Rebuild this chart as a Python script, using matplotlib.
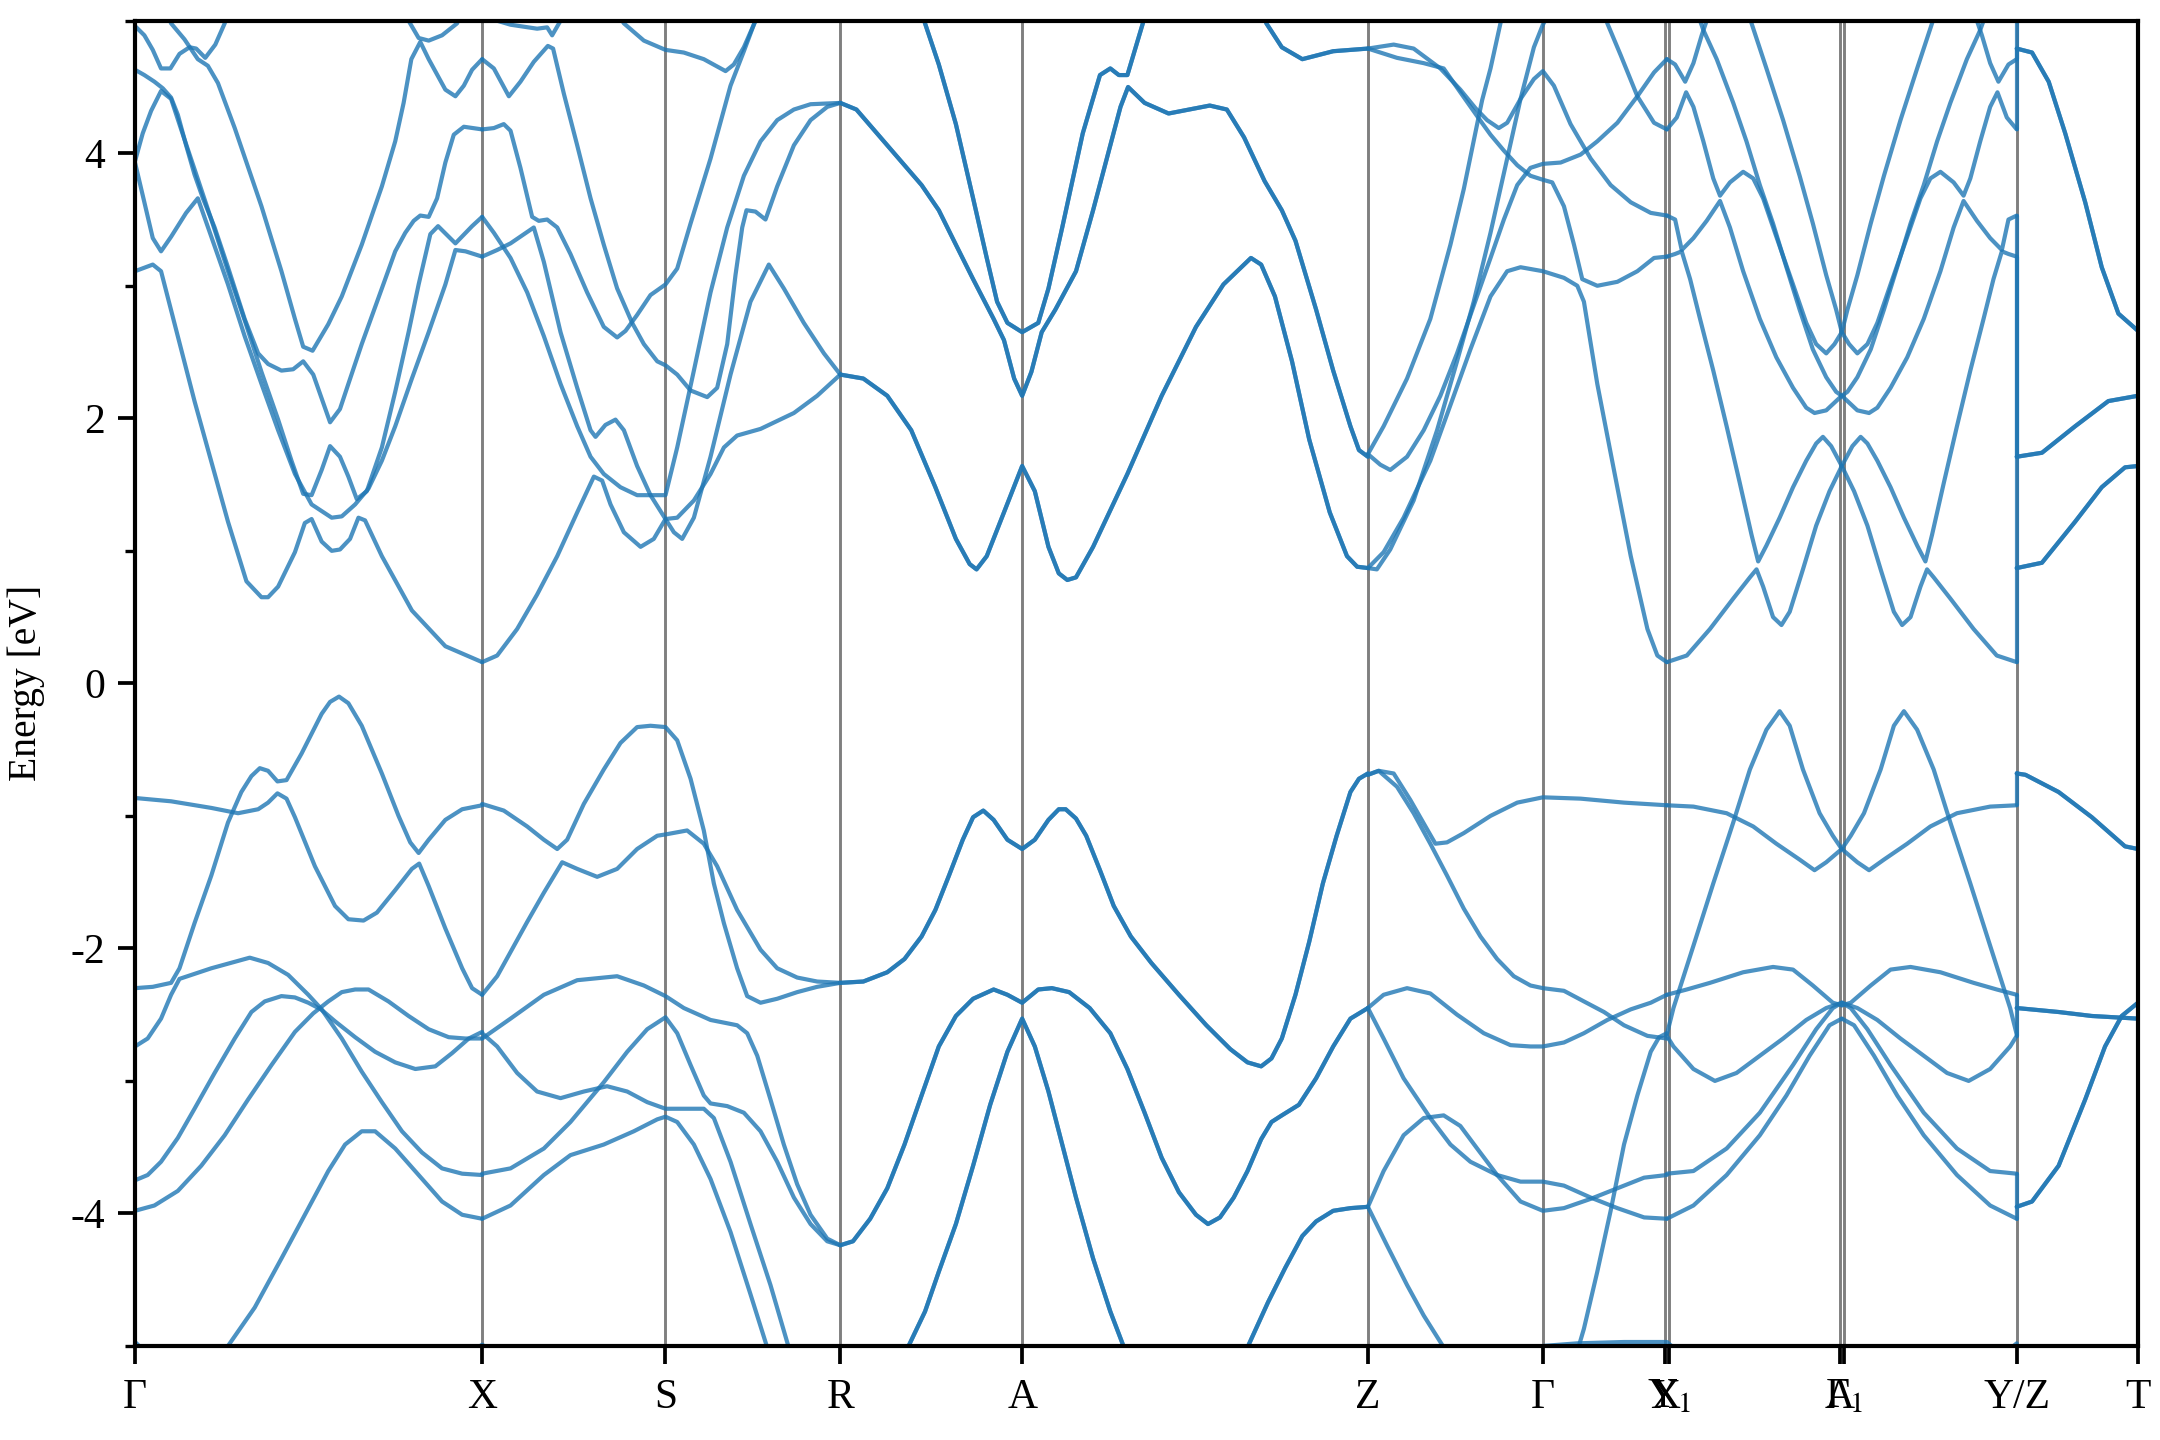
import matplotlib
matplotlib.use("Agg")
import matplotlib.pyplot as plt
from matplotlib.ticker import MultipleLocator

plt.rcParams['font.family'] = ['Liberation Serif', 'DejaVu Serif']
plt.rcParams['mathtext.fontset'] = 'stix'
plt.rcParams['axes.unicode_minus'] = False

# ---------------- high-symmetry path ----------------
kpt_labels = ["Γ", "X", "S", "R", "A", "Z", "Γ", "X", "Y$_1$", "A", "Γ$_1$", "Y/Z", "T"]
kpt_pos = [0.0, 2.52, 3.85, 5.12, 6.44, 8.95, 10.22, 11.105, 11.135, 12.375, 12.405, 13.66, 14.54]
k_max = 14.54
e_min, e_max = -5.0, 5.0

# ---------------- bands: (k, E [eV]) ----------------
# Gamma - X, conduction
gx_c1 = [(0,3.11),(0.129,3.16),(0.189,3.11),(0.432,2.13),(0.675,1.22),(0.809,0.77),(0.918,0.65),(0.966,0.65),(1.039,0.73),(1.161,0.99),(1.233,1.21),(1.282,1.24),(1.355,1.07),(1.428,1.00),(1.488,1.01),(1.561,1.09),(1.622,1.25),(1.670,1.23),(1.792,0.96),(2.010,0.55),(2.253,0.28),(2.52,0.16)]
gx_c2 = [(0,4.96),(0.068,4.89),(0.129,4.78),(0.189,4.64),(0.257,4.64),(0.323,4.75),(0.396,4.80),(0.444,4.79),(0.510,4.72),(0.583,4.82),(0.651,4.98),(0.68,5.08)]
gx_c3 = [(0.22,5.08),(0.262,4.98),(0.359,4.86),(0.456,4.71),(0.529,4.66),(0.602,4.53),(0.724,4.19),(0.918,3.60),(1.063,3.11),(1.161,2.75),(1.221,2.54),(1.289,2.51),(1.403,2.71),(1.501,2.92),(1.646,3.31),(1.792,3.75),(1.889,4.09),(1.950,4.38),(2.006,4.71),(2.071,4.84),(2.132,4.71),(2.253,4.48),(2.326,4.43),(2.387,4.51),(2.447,4.63),(2.52,4.71)]
gx_c4 = [(1.96,5.08),(1.986,5.0),(2.059,4.87),(2.132,4.85),(2.229,4.89),(2.338,4.98),(2.37,5.08)]
gx_c5 = [(0,4.63),(0.068,4.59),(0.141,4.54),(0.202,4.49),(0.262,4.42),(0.311,4.29),(0.371,4.06),(0.432,3.84),(0.493,3.66),(0.578,3.44),(0.675,3.14),(0.796,2.75),(0.894,2.49),(0.966,2.41),(1.063,2.36),(1.148,2.37),(1.221,2.43),(1.294,2.33),(1.355,2.15),(1.416,1.97),(1.488,2.07),(1.549,2.26),(1.646,2.56),(1.792,2.98),(1.889,3.26),(1.962,3.40),(2.023,3.49),(2.071,3.53),(2.132,3.52),(2.193,3.66),(2.253,3.93),(2.314,4.14),(2.387,4.20),(2.52,4.18)]
gx_c6 = [(0,3.94),(0.056,4.15),(0.117,4.32),(0.189,4.47),(0.262,4.41),(0.335,4.18),(0.432,3.88),(0.554,3.50),(0.675,3.11),(0.796,2.74),(0.918,2.35),(1.039,1.99),(1.136,1.68),(1.221,1.43),(1.282,1.42),(1.355,1.61),(1.416,1.79),(1.488,1.71),(1.549,1.56),(1.610,1.39),(1.683,1.45),(1.792,1.78),(1.889,2.20),(1.986,2.65),(2.059,3.01),(2.144,3.39),(2.200,3.45),(2.326,3.32),(2.447,3.45),(2.52,3.52)]
gx_c7 = [(0,3.93),(0.068,3.63),(0.129,3.36),(0.189,3.26),(0.262,3.37),(0.371,3.55),(0.456,3.66),(0.554,3.37),(0.675,3.01),(0.796,2.62),(0.918,2.26),(1.039,1.91),(1.161,1.58),(1.282,1.35),(1.428,1.25),(1.501,1.26),(1.598,1.35),(1.695,1.47),(1.792,1.68),(1.889,1.94),(2.010,2.30),(2.132,2.65),(2.253,3.01),(2.326,3.27),(2.399,3.26),(2.52,3.22)]
# Gamma - X, valence
gx_v1 = [(0,-0.865),(0.262,-0.89),(0.554,-0.94),(0.748,-0.98),(0.894,-0.95),(0.966,-0.90),(1.034,-0.83),(1.100,-0.87),(1.161,-1.01),(1.306,-1.38),(1.452,-1.68),(1.549,-1.78),(1.659,-1.79),(1.756,-1.73),(1.889,-1.56),(2.010,-1.40),(2.063,-1.36),(2.132,-1.53),(2.253,-1.85),(2.375,-2.15),(2.447,-2.30),(2.52,-2.35)]
gx_v2 = [(0,-2.30),(0.129,-2.29),(0.262,-2.26),(0.323,-2.15),(0.432,-1.81),(0.554,-1.45),(0.675,-1.05),(0.772,-0.82),(0.845,-0.70),(0.906,-0.64),(0.966,-0.66),(1.034,-0.74),(1.100,-0.73),(1.209,-0.53),(1.355,-0.23),(1.416,-0.14),(1.481,-0.10),(1.549,-0.15),(1.646,-0.32),(1.792,-0.68),(1.913,-1.00),(1.998,-1.20),(2.059,-1.28),(2.132,-1.18),(2.253,-1.03),(2.375,-0.95),(2.52,-0.92)]
gx_v3 = [(0,-2.74),(0.092,-2.68),(0.189,-2.53),(0.262,-2.35),(0.323,-2.23),(0.554,-2.15),(0.833,-2.07),(0.966,-2.11),(1.112,-2.20),(1.258,-2.35),(1.355,-2.46),(1.501,-2.68),(1.646,-2.93),(1.792,-3.16),(1.938,-3.38),(2.083,-3.54),(2.229,-3.66),(2.375,-3.70),(2.52,-3.71)]
gx_v4 = [(0,-3.75),(0.092,-3.71),(0.189,-3.61),(0.311,-3.43),(0.432,-3.21),(0.578,-2.94),(0.724,-2.68),(0.845,-2.48),(0.942,-2.40),(1.063,-2.36),(1.161,-2.37),(1.258,-2.41),(1.350,-2.46),(1.452,-2.55),(1.598,-2.67),(1.743,-2.78),(1.889,-2.86),(2.035,-2.91),(2.180,-2.89),(2.302,-2.79),(2.423,-2.68),(2.52,-2.63)]
gx_v5 = [(0,-3.98),(0.141,-3.94),(0.311,-3.83),(0.481,-3.64),(0.651,-3.41),(0.821,-3.14),(0.991,-2.88),(1.161,-2.63),(1.294,-2.49),(1.403,-2.40),(1.501,-2.33),(1.598,-2.31),(1.695,-2.31),(1.840,-2.40),(1.986,-2.51),(2.132,-2.61),(2.277,-2.67),(2.399,-2.68),(2.52,-2.68)]
gx_v6 = [(0.60,-5.3),(0.675,-5.0),(0.869,-4.71),(1.063,-4.34),(1.233,-4.01),(1.403,-3.68),(1.525,-3.48),(1.646,-3.38),(1.743,-3.38),(1.889,-3.51),(2.059,-3.71),(2.229,-3.91),(2.375,-4.01),(2.52,-4.04)]
gx_v7 = [(0,-4.97),(0.08,-5.05)]
gx_v8 = [(2.44,-5.05),(2.52,-4.99),(2.60,-5.05)]

# X - S - R, conduction
xs_a = [(2.520,4.71),(2.605,4.64),(2.714,4.43),(2.798,4.54),(2.895,4.69),(2.997,4.81),(3.035,4.79),(3.113,4.45),(3.210,4.06),(3.307,3.66),(3.403,3.31),(3.500,2.98),(3.609,2.72),(3.694,2.56),(3.791,2.43),(3.851,2.40),(3.936,2.33),(4.033,2.21),(4.154,2.16),(4.226,2.23),(4.299,2.56),(4.359,3.08),(4.408,3.44),(4.439,3.57),(4.504,3.56),(4.577,3.50),(4.662,3.75),(4.783,4.06),(4.904,4.25),(5.025,4.35),(5.12,4.38)]
xs_b = [(2.520,4.18),(2.605,4.19),(2.677,4.22),(2.726,4.17),(2.798,3.89),(2.883,3.52),(2.931,3.49),(2.992,3.50),(3.065,3.44),(3.161,3.24),(3.282,2.95),(3.403,2.69),(3.500,2.61),(3.561,2.66),(3.645,2.78),(3.742,2.93),(3.851,3.01),(3.936,3.13),(4.033,3.47),(4.178,3.96),(4.323,4.51),(4.420,4.77),(4.492,4.97),(4.528,5.06)]
xs_c = [(2.520,3.52),(2.605,3.40),(2.726,3.21),(2.847,2.95),(2.968,2.62),(3.089,2.26),(3.210,1.94),(3.307,1.71),(3.403,1.58),(3.524,1.48),(3.645,1.42),(3.766,1.42),(3.851,1.42),(3.936,1.78),(4.057,2.36),(4.178,2.95),(4.299,3.44),(4.420,3.83),(4.541,4.09),(4.662,4.25),(4.783,4.33),(4.904,4.37),(5.12,4.38)]
xs_d = [(2.520,3.22),(2.629,3.27),(2.726,3.32),(2.895,3.44),(2.968,3.18),(3.089,2.65),(3.210,2.23),(3.307,1.91),(3.343,1.86),(3.415,1.95),(3.488,1.99),(3.549,1.91),(3.645,1.64),(3.742,1.42),(3.851,1.24),(3.912,1.14),(3.972,1.09),(4.057,1.25),(4.178,1.71),(4.323,2.33),(4.468,2.88),(4.601,3.16),(4.710,2.98),(4.855,2.72),(5.001,2.49),(5.12,2.33)]
xs_e = [(2.520,0.16),(2.629,0.21),(2.774,0.41),(2.919,0.67),(3.065,0.96),(3.210,1.29),(3.331,1.56),(3.391,1.53),(3.452,1.35),(3.549,1.14),(3.670,1.03),(3.766,1.09),(3.851,1.24),(3.936,1.25),(4.057,1.38),(4.178,1.58),(4.275,1.78),(4.371,1.87),(4.541,1.92),(4.783,2.04),(4.952,2.17),(5.12,2.33)]
xs_f = [(3.50,5.06),(3.549,4.98),(3.694,4.85),(3.851,4.78),(3.984,4.76),(4.129,4.71),(4.287,4.62),(4.347,4.67),(4.420,4.80),(4.492,4.97),(4.528,5.06)]
xs_g = [(2.60,5.06),(2.629,5.0),(2.726,4.97),(2.919,4.94),(2.992,4.95),(3.028,4.89),(3.089,5.0),(3.11,5.06)]
# X - S - R, valence
xs_v1 = [(2.520,-0.91),(2.677,-0.96),(2.847,-1.08),(2.968,-1.18),(3.065,-1.25),(3.137,-1.18),(3.258,-0.91),(3.403,-0.65),(3.524,-0.45),(3.645,-0.33),(3.742,-0.32),(3.851,-0.33),(3.936,-0.43),(4.033,-0.72),(4.129,-1.11),(4.202,-1.51),(4.275,-1.81),(4.371,-2.15),(4.444,-2.36),(4.541,-2.41),(4.662,-2.38),(4.807,-2.33),(4.952,-2.29),(5.12,-2.26)]
xs_v2 = [(2.520,-2.35),(2.629,-2.21),(2.847,-1.80),(2.968,-1.58),(3.101,-1.35),(3.210,-1.40),(3.355,-1.46),(3.500,-1.40),(3.645,-1.25),(3.791,-1.15),(3.851,-1.14),(4.008,-1.11),(4.129,-1.21),(4.226,-1.38),(4.371,-1.71),(4.541,-2.01),(4.662,-2.15),(4.807,-2.22),(4.952,-2.25),(5.12,-2.26)]
xs_v3 = [(2.520,-2.68),(2.726,-2.53),(2.968,-2.35),(3.210,-2.24),(3.500,-2.21),(3.694,-2.28),(3.851,-2.36),(3.984,-2.45),(4.178,-2.54),(4.371,-2.58),(4.444,-2.64),(4.517,-2.81),(4.613,-3.14),(4.710,-3.48),(4.807,-3.78),(4.904,-4.01),(5.025,-4.19),(5.12,-4.24)]
xs_v4 = [(2.520,-3.70),(2.726,-3.66),(2.968,-3.51),(3.161,-3.31),(3.403,-3.01),(3.573,-2.78),(3.718,-2.61),(3.851,-2.52),(3.936,-2.64),(4.033,-2.88),(4.129,-3.11),(4.178,-3.17),(4.299,-3.19),(4.420,-3.24),(4.541,-3.38),(4.662,-3.61),(4.783,-3.88),(4.904,-4.08),(5.025,-4.21),(5.12,-4.24)]
xs_v5 = [(2.520,-2.64),(2.629,-2.74),(2.774,-2.94),(2.919,-3.08),(3.089,-3.13),(3.258,-3.08),(3.427,-3.04),(3.573,-3.08),(3.718,-3.16),(3.851,-3.21),(3.984,-3.21),(4.129,-3.21),(4.202,-3.28),(4.323,-3.61),(4.468,-4.08),(4.613,-4.54),(4.734,-4.97),(4.783,-5.14)]
xs_v6 = [(2.520,-4.04),(2.726,-3.94),(2.968,-3.71),(3.161,-3.56),(3.403,-3.48),(3.621,-3.38),(3.791,-3.29),(3.851,-3.27),(3.936,-3.31),(4.057,-3.48),(4.178,-3.74),(4.323,-4.14),(4.468,-4.61),(4.589,-5.01),(4.613,-5.14)]

# R - A - Z (doubly degenerate)
rz_c1 = [(5.12,4.38),(5.237,4.33),(5.461,4.06),(5.710,3.76),(5.835,3.57),(5.959,3.31),(6.084,3.05),(6.233,2.75),(6.308,2.59),(6.382,2.30),(6.44,2.17),(6.507,2.35),(6.582,2.65),(6.681,2.82),(6.831,3.11),(6.955,3.57),(7.080,4.06),(7.154,4.35),(7.209,4.50),(7.329,4.38),(7.503,4.30),(7.652,4.33),(7.802,4.36),(7.926,4.33),(8.051,4.12),(8.200,3.79),(8.325,3.57),(8.424,3.34),(8.574,2.82),(8.698,2.36),(8.823,1.94),(8.885,1.76),(8.95,1.71)]
rz_c2 = [(5.71,5.06),(5.735,4.98),(5.835,4.67),(5.959,4.22),(6.084,3.66),(6.183,3.21),(6.258,2.88),(6.333,2.72),(6.44,2.65),(6.557,2.72),(6.631,2.98),(6.731,3.44),(6.880,4.15),(7.005,4.59),(7.080,4.64),(7.142,4.59),(7.204,4.59),(7.316,4.98),(7.34,5.08)]
rz_c3 = [(5.12,2.33),(5.287,2.30),(5.461,2.17),(5.635,1.91),(5.810,1.48),(5.959,1.09),(6.059,0.90),(6.109,0.86),(6.183,0.96),(6.308,1.29),(6.44,1.64),(6.532,1.45),(6.631,1.03),(6.706,0.83),(6.768,0.78),(6.831,0.80),(6.955,1.03),(7.204,1.58),(7.453,2.17),(7.702,2.69),(7.901,3.01),(8.101,3.21),(8.175,3.16),(8.275,2.92),(8.399,2.43),(8.524,1.84),(8.673,1.29),(8.798,0.96),(8.872,0.88),(8.95,0.87)]
rz_c4 = [(8.19,5.06),(8.213,4.98),(8.325,4.80),(8.474,4.71),(8.698,4.77),(8.95,4.79)]
rz_v1 = [(5.12,-2.26),(5.287,-2.25),(5.461,-2.18),(5.586,-2.08),(5.710,-1.91),(5.810,-1.71),(5.909,-1.45),(6.009,-1.18),(6.084,-1.01),(6.158,-0.96),(6.233,-1.03),(6.333,-1.18),(6.44,-1.25),(6.532,-1.18),(6.631,-1.03),(6.706,-0.95),(6.756,-0.95),(6.831,-1.02),(6.905,-1.15),(7.005,-1.41),(7.105,-1.68),(7.229,-1.91),(7.378,-2.11),(7.578,-2.35),(7.777,-2.58),(7.951,-2.76),(8.076,-2.86),(8.175,-2.89),(8.250,-2.83),(8.325,-2.68),(8.424,-2.35),(8.524,-1.95),(8.623,-1.51),(8.723,-1.15),(8.823,-0.82),(8.885,-0.72),(8.95,-0.68)]
rz_v2 = [(5.12,-4.24),(5.212,-4.21),(5.337,-4.04),(5.461,-3.81),(5.586,-3.48),(5.710,-3.11),(5.835,-2.74),(5.959,-2.51),(6.084,-2.38),(6.233,-2.31),(6.333,-2.35),(6.44,-2.41),(6.557,-2.31),(6.656,-2.30),(6.781,-2.33),(6.930,-2.45),(7.080,-2.64),(7.204,-2.91),(7.329,-3.24),(7.453,-3.58),(7.578,-3.84),(7.702,-4.01),(7.789,-4.08),(7.876,-4.03),(7.976,-3.88),(8.076,-3.68),(8.175,-3.44),(8.250,-3.31),(8.325,-3.26),(8.449,-3.18),(8.574,-2.98),(8.698,-2.74),(8.823,-2.53),(8.95,-2.45)]
rz_v3 = [(5.57,-5.12),(5.611,-5.01),(5.735,-4.74),(5.835,-4.44),(5.959,-4.08),(6.084,-3.64),(6.208,-3.18),(6.333,-2.78),(6.44,-2.53),(6.532,-2.74),(6.631,-3.08),(6.731,-3.48),(6.831,-3.88),(6.955,-4.34),(7.080,-4.74),(7.179,-5.01),(7.22,-5.12)]
rz_v4 = [(8.04,-5.12),(8.076,-5.01),(8.225,-4.67),(8.350,-4.41),(8.474,-4.17),(8.574,-4.06),(8.698,-3.98),(8.823,-3.96),(8.95,-3.95)]

# Z - Gamma - X, conduction
zg_c1 = [(8.95,1.73),(9.040,1.65),(9.112,1.61),(9.234,1.71),(9.355,1.91),(9.476,2.17),(9.597,2.49),(9.718,2.85),(9.840,3.21),(9.937,3.50),(10.034,3.76),(10.130,3.89),(10.22,3.92),(10.349,3.93),(10.494,3.99),(10.615,4.09),(10.761,4.23),(10.906,4.43),(11.027,4.61),(11.12,4.71)]
zg_c2 = [(8.95,1.73),(9.064,1.94),(9.234,2.30),(9.403,2.75),(9.549,3.31),(9.646,3.73),(9.743,4.22),(9.779,4.40),(9.840,4.64),(9.912,4.98),(9.93,5.06)]
zg_c3 = [(8.95,0.87),(9.015,0.86),(9.112,1.01),(9.282,1.38),(9.452,1.91),(9.597,2.43),(9.718,2.88),(9.840,3.40),(9.961,3.96),(10.058,4.41),(10.155,4.80),(10.22,4.97),(10.252,5.03)]
zg_c4 = [(8.95,0.87),(9.064,0.99),(9.209,1.25),(9.403,1.68),(9.549,2.10),(9.694,2.52),(9.840,2.92),(9.961,3.11),(10.058,3.14),(10.22,3.11),(10.373,3.06),(10.470,3.00),(10.518,2.88),(10.615,2.26),(10.736,1.61),(10.858,0.96),(10.979,0.41),(11.051,0.21),(11.12,0.16)]
zg_c5 = [(8.95,4.79),(9.137,4.82),(9.282,4.79),(9.476,4.64),(9.621,4.48),(9.731,4.34),(9.815,4.25),(9.900,4.19),(9.961,4.23),(10.058,4.41),(10.155,4.56),(10.22,4.62),(10.300,4.51),(10.421,4.22),(10.567,3.96),(10.712,3.76),(10.858,3.63),(11.003,3.55),(11.12,3.53)]
zg_c6 = [(8.95,4.79),(9.161,4.72),(9.355,4.68),(9.500,4.64),(9.621,4.46),(9.743,4.28),(9.840,4.14),(9.937,4.02),(10.034,3.91),(10.130,3.83),(10.22,3.80),(10.288,3.78),(10.373,3.60),(10.446,3.31),(10.506,3.05),(10.615,3.00),(10.761,3.03),(10.906,3.11),(11.027,3.21),(11.12,3.22)]
zg_c7 = [(10.664,5.06),(10.688,4.98),(10.785,4.74),(10.906,4.43),(11.027,4.23),(11.12,4.18)]
# Z - Gamma - X, valence
zg_v1 = [(8.95,-0.69),(9.028,-0.66),(9.137,-0.68),(9.258,-0.88),(9.379,-1.10),(9.440,-1.21),(9.524,-1.20),(9.646,-1.13),(9.840,-1.00),(10.034,-0.90),(10.22,-0.86),(10.494,-0.87),(10.809,-0.90),(11.12,-0.92)]
zg_v2 = [(8.95,-0.69),(9.028,-0.66),(9.161,-0.78),(9.282,-0.98),(9.403,-1.21),(9.524,-1.45),(9.646,-1.70),(9.767,-1.91),(9.888,-2.08),(10.009,-2.21),(10.130,-2.28),(10.22,-2.30),(10.373,-2.32),(10.518,-2.40),(10.664,-2.48),(10.809,-2.58),(10.979,-2.66),(11.12,-2.68)]
zg_v3 = [(8.95,-2.45),(9.064,-2.35),(9.234,-2.30),(9.403,-2.34),(9.597,-2.50),(9.791,-2.64),(9.985,-2.73),(10.130,-2.74),(10.22,-2.74),(10.373,-2.71),(10.518,-2.64),(10.688,-2.54),(10.858,-2.46),(11.003,-2.41),(11.12,-2.35)]
zg_v4 = [(8.95,-2.45),(9.064,-2.68),(9.209,-2.98),(9.403,-3.28),(9.549,-3.48),(9.694,-3.61),(9.888,-3.71),(10.058,-3.76),(10.22,-3.76),(10.373,-3.79),(10.567,-3.88),(10.761,-3.96),(10.955,-4.03),(11.12,-4.04)]
zg_v5 = [(8.95,-3.95),(9.064,-3.68),(9.209,-3.41),(9.355,-3.28),(9.500,-3.26),(9.621,-3.34),(9.743,-3.51),(9.888,-3.71),(10.058,-3.91),(10.22,-3.98),(10.373,-3.96),(10.567,-3.89),(10.761,-3.81),(10.955,-3.73),(11.12,-3.71)]
zg_v6 = [(8.95,-3.95),(9.088,-4.24),(9.234,-4.54),(9.355,-4.77),(9.500,-5.01),(9.52,-5.1)]
zg_v7 = [(10.08,-5.06),(10.22,-5.0),(10.47,-4.98),(10.81,-4.97),(11.12,-4.97),(11.20,-5.04)]
zg_v8 = [(10.47,-5.04),(10.518,-4.87),(10.615,-4.44),(10.712,-3.98),(10.809,-3.48),(10.906,-3.11),(11.003,-2.78),(11.064,-2.67),(11.12,-2.64)]

# Y1 - A|Gamma1 - Y, conduction
ya_c1 = [(11.12,4.71),(11.180,4.67),(11.253,4.54),(11.313,4.68),(11.373,4.89),(11.409,5.0),(11.42,5.07)]
ya_c2 = [(11.337,5.07),(11.385,4.93),(11.482,4.71),(11.602,4.38),(11.698,4.09),(11.795,3.76),(11.891,3.47),(11.988,3.14),(12.084,2.82),(12.180,2.52),(12.277,2.31),(12.349,2.20),(12.39,2.17)]
ya_c3 = [(11.12,4.18),(11.192,4.27),(11.260,4.46),(11.313,4.35),(11.385,4.09),(11.457,3.81),(11.506,3.68),(11.578,3.78),(11.674,3.86),(11.747,3.81),(11.819,3.66),(11.915,3.37),(12.036,3.01),(12.132,2.72),(12.204,2.56),(12.277,2.49),(12.337,2.56),(12.39,2.65)]
ya_c4 = [(11.12,3.53),(11.180,3.50),(11.228,3.27),(11.313,3.36),(11.409,3.49),(11.506,3.64),(11.578,3.44),(11.674,3.11),(11.795,2.75),(11.915,2.46),(12.036,2.23),(12.132,2.08),(12.192,2.04),(12.277,2.06),(12.39,2.17)]
ya_c5 = [(11.12,3.22),(11.180,3.24),(11.228,3.26),(11.289,3.05),(11.361,2.75),(11.457,2.36),(11.554,1.94),(11.650,1.51),(11.735,1.12),(11.783,0.92),(11.843,1.04),(11.939,1.25),(12.036,1.48),(12.132,1.68),(12.204,1.81),(12.253,1.86),(12.313,1.79),(12.39,1.64)]
ya_c6 = [(11.12,0.16),(11.265,0.21),(11.433,0.41),(11.602,0.64),(11.723,0.80),(11.771,0.86),(11.819,0.73),(11.891,0.50),(11.952,0.44),(12.012,0.54),(12.108,0.86),(12.204,1.19),(12.301,1.45),(12.39,1.64)]
ya_c7 = [(11.710,5.07),(11.735,4.98),(11.843,4.64),(11.964,4.25),(12.084,3.83),(12.180,3.47),(12.277,3.08),(12.349,2.82),(12.39,2.65)]
ay_c1 = [(13.66,4.71),(13.600,4.67),(13.527,4.54),(13.467,4.68),(13.407,4.89),(13.371,5.0),(13.36,5.07)]
ay_c2 = [(13.443,5.07),(13.395,4.93),(13.298,4.71),(13.178,4.38),(13.082,4.09),(12.985,3.76),(12.889,3.47),(12.792,3.14),(12.696,2.82),(12.600,2.52),(12.503,2.31),(12.431,2.20),(12.39,2.17)]
ay_c3 = [(13.66,4.18),(13.588,4.27),(13.520,4.46),(13.467,4.35),(13.395,4.09),(13.323,3.81),(13.274,3.68),(13.202,3.78),(13.106,3.86),(13.033,3.81),(12.961,3.66),(12.865,3.37),(12.744,3.01),(12.648,2.72),(12.576,2.56),(12.503,2.49),(12.443,2.56),(12.39,2.65)]
ay_c4 = [(13.66,3.53),(13.600,3.50),(13.552,3.27),(13.467,3.36),(13.371,3.49),(13.274,3.64),(13.202,3.44),(13.106,3.11),(12.985,2.75),(12.865,2.46),(12.744,2.23),(12.648,2.08),(12.588,2.04),(12.503,2.06),(12.39,2.17)]
ay_c5 = [(13.66,3.22),(13.600,3.24),(13.552,3.26),(13.491,3.05),(13.419,2.75),(13.323,2.36),(13.226,1.94),(13.130,1.51),(13.045,1.12),(12.997,0.92),(12.937,1.04),(12.841,1.25),(12.744,1.48),(12.648,1.68),(12.576,1.81),(12.527,1.86),(12.467,1.79),(12.39,1.64)]
ay_c6 = [(13.66,0.16),(13.515,0.21),(13.347,0.41),(13.178,0.64),(13.057,0.80),(13.009,0.86),(12.961,0.73),(12.889,0.50),(12.828,0.44),(12.768,0.54),(12.672,0.86),(12.576,1.19),(12.479,1.45),(12.39,1.64)]
ay_c7 = [(13.070,5.07),(13.045,4.98),(12.937,4.64),(12.816,4.25),(12.696,3.83),(12.600,3.47),(12.503,3.08),(12.431,2.82),(12.39,2.65)]
# Y1 - A|Gamma1 - Y, valence
ya_v1 = [(11.12,-0.92),(11.313,-0.93),(11.554,-0.98),(11.747,-1.08),(11.915,-1.21),(12.084,-1.33),(12.192,-1.41),(12.277,-1.35),(12.39,-1.25)]
ya_v2 = [(11.12,-2.65),(11.168,-2.45),(11.313,-1.98),(11.457,-1.51),(11.602,-1.05),(11.723,-0.65),(11.843,-0.35),(11.939,-0.21),(12.012,-0.32),(12.108,-0.65),(12.229,-0.98),(12.325,-1.15),(12.39,-1.25)]
ya_v3 = [(11.12,-2.35),(11.265,-2.31),(11.433,-2.26),(11.674,-2.18),(11.891,-2.14),(12.036,-2.16),(12.180,-2.28),(12.325,-2.41),(12.39,-2.43)]
ya_v4 = [(11.12,-2.66),(11.168,-2.74),(11.313,-2.91),(11.469,-3.00),(11.626,-2.94),(11.795,-2.81),(11.964,-2.68),(12.132,-2.54),(12.277,-2.45),(12.39,-2.41)]
ya_v5 = [(11.12,-3.70),(11.313,-3.68),(11.554,-3.51),(11.795,-3.24),(12.036,-2.88),(12.204,-2.61),(12.325,-2.45),(12.39,-2.41)]
ya_v6 = [(11.12,-4.04),(11.313,-3.94),(11.554,-3.71),(11.795,-3.41),(11.988,-3.11),(12.156,-2.81),(12.301,-2.58),(12.39,-2.53)]
ay_v1 = [(13.66,-0.92),(13.467,-0.93),(13.226,-0.98),(13.033,-1.08),(12.865,-1.21),(12.696,-1.33),(12.588,-1.41),(12.503,-1.35),(12.39,-1.25)]
ay_v2 = [(13.66,-2.65),(13.612,-2.45),(13.467,-1.98),(13.323,-1.51),(13.178,-1.05),(13.057,-0.65),(12.937,-0.35),(12.841,-0.21),(12.768,-0.32),(12.672,-0.65),(12.551,-0.98),(12.455,-1.15),(12.39,-1.25)]
ay_v3 = [(13.66,-2.35),(13.515,-2.31),(13.347,-2.26),(13.106,-2.18),(12.889,-2.14),(12.744,-2.16),(12.600,-2.28),(12.455,-2.41),(12.39,-2.43)]
ay_v4 = [(13.66,-2.66),(13.612,-2.74),(13.467,-2.91),(13.311,-3.00),(13.154,-2.94),(12.985,-2.81),(12.816,-2.68),(12.648,-2.54),(12.503,-2.45),(12.39,-2.41)]
ay_v5 = [(13.66,-3.70),(13.467,-3.68),(13.226,-3.51),(12.985,-3.24),(12.744,-2.88),(12.576,-2.61),(12.455,-2.45),(12.39,-2.41)]
ay_v6 = [(13.66,-4.04),(13.467,-3.94),(13.226,-3.71),(12.985,-3.41),(12.792,-3.11),(12.624,-2.81),(12.479,-2.58),(12.39,-2.53)]
ay_v7 = [(13.59,-5.04),(13.66,-4.98)]

# Z - T (doubly degenerate)
zt_c1 = [(13.66,4.79),(13.771,4.76),(13.892,4.54),(14.012,4.15),(14.157,3.63),(14.277,3.14),(14.398,2.79),(14.54,2.66)]
zt_c2 = [(13.66,1.71),(13.843,1.74),(14.084,1.94),(14.325,2.13),(14.54,2.17)]
zt_c3 = [(13.66,0.87),(13.843,0.91),(14.084,1.22),(14.277,1.48),(14.446,1.63),(14.54,1.64)]
zt_v1 = [(13.66,-0.68),(13.723,-0.69),(13.964,-0.82),(14.205,-1.01),(14.446,-1.23),(14.54,-1.25)]
zt_v2 = [(13.66,-2.45),(13.964,-2.48),(14.205,-2.51),(14.54,-2.53)]
zt_v3 = [(13.66,-3.95),(13.771,-3.91),(13.964,-3.64),(14.157,-3.14),(14.301,-2.74),(14.422,-2.51),(14.54,-2.41)]

# band jumps at the Y|Z discontinuity: (E at Y, E at Z)
yz_jumps = [(0.16,0.87),(3.22,0.87),(3.53,1.71),(4.18,4.79),(4.71,4.79),(5.1,4.79),
            (-0.92,-0.68),(-2.35,-2.45),(-2.66,-2.45),(-3.70,-3.95),(-4.04,-3.95)]
yz_k = 13.66

single = [gx_c1,gx_c2,gx_c3,gx_c4,gx_c5,gx_c6,gx_c7,
          gx_v1,gx_v2,gx_v3,gx_v4,gx_v5,gx_v6,gx_v7,gx_v8,
          xs_a,xs_b,xs_c,xs_d,xs_e,xs_f,xs_g,
          xs_v1,xs_v2,xs_v3,xs_v4,xs_v5,xs_v6,
          zg_c1,zg_c2,zg_c3,zg_c4,zg_c5,zg_c6,zg_c7,
          zg_v1,zg_v2,zg_v3,zg_v4,zg_v5,zg_v6,zg_v7,zg_v8,
          ya_c1,ya_c2,ya_c3,ya_c4,ya_c5,ya_c6,ya_c7,
          ay_c1,ay_c2,ay_c3,ay_c4,ay_c5,ay_c6,ay_c7,
          ya_v1,ya_v2,ya_v3,ya_v4,ya_v5,ya_v6,
          ay_v1,ay_v2,ay_v3,ay_v4,ay_v5,ay_v6,ay_v7]
degenerate = [rz_c1,rz_c2,rz_c3,rz_c4,rz_v1,rz_v2,rz_v3,rz_v4,
              zt_c1,zt_c2,zt_c3,zt_v1,zt_v2,zt_v3]

# ---------------- plot ----------------
fig = plt.figure(figsize=(7.2, 4.8), dpi=300)
ax = fig.add_axes([0.0625, 0.0653, 0.9273, 0.9203])

for kp in sorted(set(kpt_pos)):
    ax.axvline(kp, color='k', alpha=0.5, lw=0.7, zorder=1)

band_color = '#1f77b4'
style = dict(color=band_color, alpha=0.8, lw=1.0, solid_joinstyle='round',
             solid_capstyle='round', zorder=2)
for s in single:
    ks, es = zip(*s)
    ax.plot(ks, es, **style)
for s in degenerate:
    ks, es = zip(*s)
    ax.plot(ks, es, **style)
    ax.plot(ks, es, **style)
for el, er in yz_jumps:
    ax.plot([yz_k, yz_k], [el, er], **style)

ax.set_xlim(0, k_max)
ax.set_ylim(e_min, e_max)
ax.set_xticks(kpt_pos)
ax.set_xticklabels(kpt_labels, fontsize=10)
ax.yaxis.set_major_locator(MultipleLocator(2))
ax.yaxis.set_minor_locator(MultipleLocator(1))
ax.tick_params(axis='y', which='major', length=4.2, width=0.9, labelsize=10, pad=3, direction='out')
ax.tick_params(axis='y', which='minor', length=2.4, width=0.8, direction='out')
ax.tick_params(axis='x', which='major', length=4.2, width=0.9, pad=3.5, direction='out')
ax.set_ylabel('Energy [eV]', fontsize=9.5)
ax.yaxis.set_label_coords(-0.045, 0.5)
for sp in ax.spines.values():
    sp.set_linewidth(1.0)

fig.savefig('out.png', dpi=300)
